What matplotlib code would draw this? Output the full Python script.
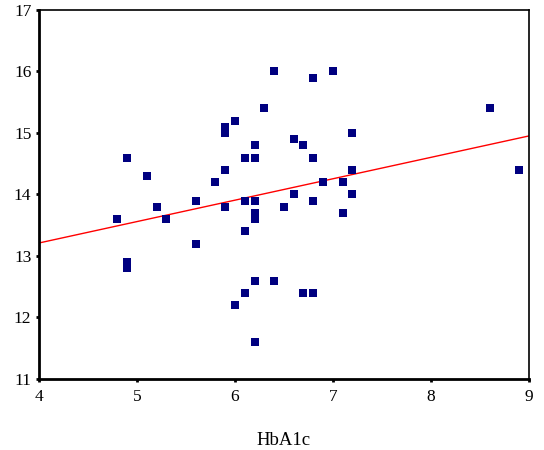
import matplotlib
matplotlib.use("Agg")
import matplotlib.pyplot as plt
import numpy as np

hba1c = [4.8, 4.9, 4.9, 4.9, 5.1, 5.2, 5.3, 5.6, 5.6, 5.8,
         5.9, 5.9, 5.9, 5.9, 6.0, 6.0, 6.1, 6.1, 6.1, 6.1,
         6.2, 6.2, 6.2, 6.2, 6.2, 6.2, 6.2, 6.3, 6.4, 6.4,
         6.5, 6.6, 6.6, 6.7, 6.7, 6.8, 6.8, 6.8, 6.8, 6.9,
         7.0, 7.1, 7.1, 7.2, 7.2, 7.2, 8.6, 8.9]
yvals = [13.6, 14.6, 12.9, 12.8, 14.3, 13.8, 13.6, 13.9, 13.2, 14.2,
         15.1, 15.0, 14.4, 13.8, 15.2, 12.2, 14.6, 13.9, 13.4, 12.4,
         14.8, 14.6, 13.9, 13.7, 13.6, 12.6, 11.6, 15.4, 16.0, 12.6,
         13.8, 14.9, 14.0, 14.8, 12.4, 15.9, 14.6, 13.9, 12.4, 14.2,
         16.0, 14.2, 13.7, 15.0, 14.4, 14.0, 15.4, 14.4]

fit_intercept_at_4 = 13.21
fit_value_at_9 = 14.95
x_ticks = [4, 5, 6, 7, 8, 9]
y_ticks = [11, 12, 13, 14, 15, 16, 17]

plt.rcParams['font.family'] = ['Liberation Serif', 'DejaVu Serif']

fig = plt.figure(figsize=(5.44, 4.5), dpi=100)
ax = fig.add_axes([0.0717, 0.158, 0.9003, 0.82])

ax.scatter(hba1c, yvals, marker='s', s=26, color='#000080', linewidths=0, zorder=3)
ax.plot([4, 9], [fit_intercept_at_4, fit_value_at_9], color='red', lw=1.0, zorder=2)

ax.set_xlim(4, 9)
ax.set_ylim(11, 17)
ax.set_xticks(x_ticks)
ax.set_yticks(y_ticks)
ax.tick_params(direction='out', length=2.5, width=2, labelsize=12.5)
ax.tick_params(axis='y', pad=3)
ax.tick_params(axis='x', pad=5)
for s in ['left', 'bottom']:
    ax.spines[s].set_linewidth(2)
for s in ['top', 'right']:
    ax.spines[s].set_linewidth(1.2)
ax.set_xlabel('HbA1c', fontsize=13.5, labelpad=19)

fig.savefig('out.png', dpi=100)
